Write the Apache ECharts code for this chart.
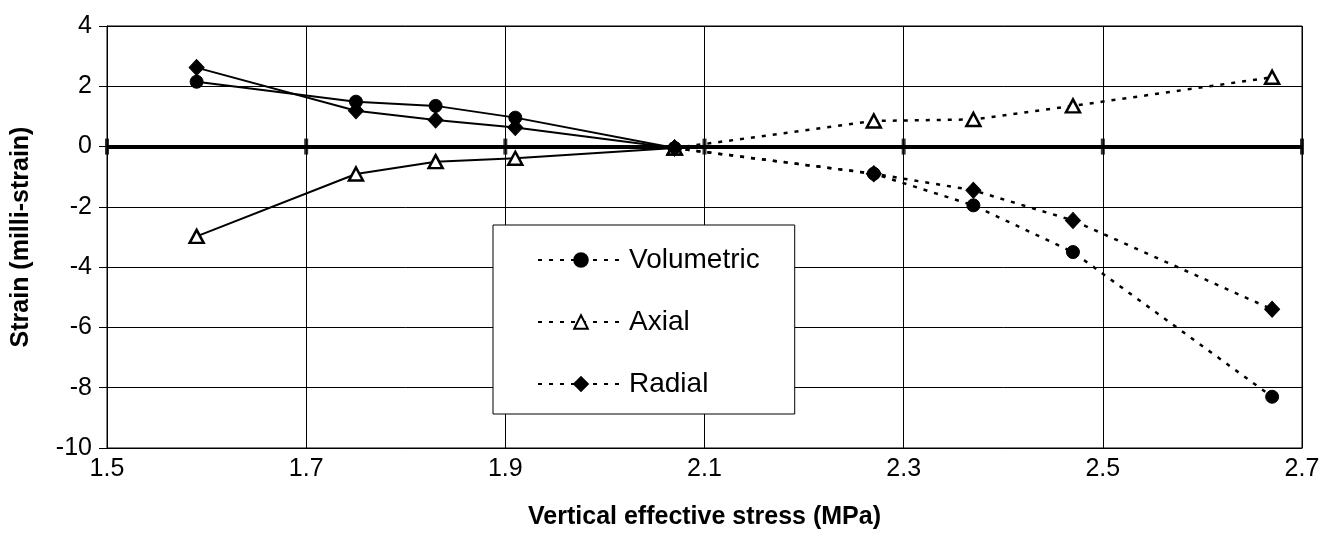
<!DOCTYPE html>
<html>
<head>
<meta charset="utf-8">
<script src="https://cdn.jsdelivr.net/npm/echarts@6/dist/echarts.min.js"></script>
<style>
  html, body { margin: 0; padding: 0; background: #fff; }
  #chart { width: 1332px; height: 549px; }
</style>
</head>
<body>
<div id="chart"></div>
<script>
// Vertical effective stress (MPa) at each reading
const stress = [1.59, 1.75, 1.83, 1.91, 2.07, 2.27, 2.37, 2.47, 2.67];
// Strains in milli-strain
const volumetric = [2.15, 1.49, 1.35, 0.96, -0.05, -0.9, -1.95, -3.5, -8.3];
const axial = [-2.98, -0.91, -0.5, -0.39, -0.05, 0.85, 0.9, 1.35, 2.3];
const radial = [2.62, 1.19, 0.88, 0.63, -0.05, -0.9, -1.45, -2.45, -5.4];
// Readings up to this index are joined with solid lines, the rest dotted
const splitIndex = 4;
// Stress values that carry a tick on the zero-strain line
const xTicks = [1.5, 1.7, 1.9, 2.1, 2.3, 2.5, 2.7];

const FONT = '"Liberation Sans", Arial, sans-serif';

function pairs(values, from, to) {
  const out = [];
  for (let i = from; i <= to; i++) out.push([stress[i], values[i]]);
  return out;
}

const markers = {
  Volumetric: { symbol: 'circle', symbolSize: 13, itemStyle: { color: '#000', borderColor: '#000', borderWidth: 1 } },
  Axial: { symbol: 'triangle', symbolSize: [14, 13], itemStyle: { color: '#fff', borderColor: '#000', borderWidth: 2.5 } },
  Radial: { symbol: 'diamond', symbolSize: [15, 16], itemStyle: { color: '#000', borderColor: '#000', borderWidth: 1 } }
};
const seriesValues = { Volumetric: volumetric, Axial: axial, Radial: radial };

const series = [];
Object.keys(seriesValues).forEach(function (name) {
  const vals = seriesValues[name];
  const m = markers[name];
  // solid branch
  series.push({
    name: name + ' (low stress)',
    type: 'line',
    data: pairs(vals, 0, splitIndex),
    symbol: m.symbol,
    symbolSize: m.symbolSize,
    itemStyle: m.itemStyle,
    lineStyle: { color: '#000', width: 2, type: 'solid' },
    showAllSymbol: true,
    z: 5,
    animation: false
  });
  // dotted branch
  series.push({
    name: name,
    type: 'line',
    data: pairs(vals, splitIndex, stress.length - 1),
    symbol: m.symbol,
    symbolSize: m.symbolSize,
    itemStyle: m.itemStyle,
    lineStyle: { color: '#000', width: 2.5, type: [4, 7] },
    showAllSymbol: true,
    z: 5,
    animation: false
  });
});

// Heavy zero-strain line with its tick marks
series.push({
  name: 'zero',
  type: 'scatter',
  data: xTicks.map(function (x) { return [x, 0]; }),
  symbol: 'rect',
  symbolSize: [4, 16],
  itemStyle: { color: '#000' },
  silent: true,
  z: 4,
  animation: false,
  markLine: {
    silent: true,
    symbol: ['none', 'none'],
    label: { show: false },
    lineStyle: { color: '#000', width: 4, type: 'solid' },
    data: [{ yAxis: 0 }],
    animation: false
  }
});

const chart = echarts.init(document.getElementById('chart'), null, { renderer: 'canvas' });
chart.setOption({
  backgroundColor: '#fff',
  animation: false,
  textStyle: { fontFamily: FONT },
  grid: {
    left: 107, right: 30, top: 26, bottom: 101,
    show: true, borderColor: '#000', borderWidth: 1, containLabel: false
  },
  xAxis: {
    type: 'value',
    min: 1.5, max: 2.7, interval: 0.2,
    name: 'Vertical effective stress (MPa)',
    nameLocation: 'middle',
    nameGap: 57,
    nameTextStyle: { fontFamily: FONT, fontSize: 25, fontWeight: 'bold', color: '#000' },
    axisLine: { show: true, onZero: false, lineStyle: { color: '#000', width: 1 } },
    axisTick: { show: false },
    axisLabel: {
      margin: 9, fontFamily: FONT, fontSize: 25, color: '#000',
      formatter: function (v) { return v.toFixed(1); }
    },
    splitLine: { show: true, lineStyle: { color: '#000', width: 1 } }
  },
  yAxis: {
    type: 'value',
    min: -10, max: 4, interval: 2,
    name: 'Strain (milli-strain)',
    nameLocation: 'middle',
    nameGap: 73,
    nameRotate: 90,
    nameTextStyle: { fontFamily: FONT, fontSize: 25, fontWeight: 'bold', color: '#000' },
    axisLine: { show: true, lineStyle: { color: '#000', width: 1 } },
    axisTick: { show: true, length: 8, lineStyle: { color: '#000', width: 1 } },
    axisLabel: { margin: 15, fontFamily: FONT, fontSize: 25, color: '#000' },
    splitLine: { show: true, lineStyle: { color: '#000', width: 1 } }
  },
  legend: {
    orient: 'vertical',
    left: 493, top: 225,
    data: ['Volumetric', 'Axial', 'Radial'],
    itemWidth: 86, itemHeight: 17, itemGap: 34,
    padding: [21, 35, 16, 44],
    borderColor: '#000', borderWidth: 1,
    backgroundColor: '#fff',
    textStyle: { fontFamily: FONT, fontSize: 28, color: '#000' },
    selectedMode: false,
    z: 20
  },
  series: series
});
</script>
</body>
</html>
